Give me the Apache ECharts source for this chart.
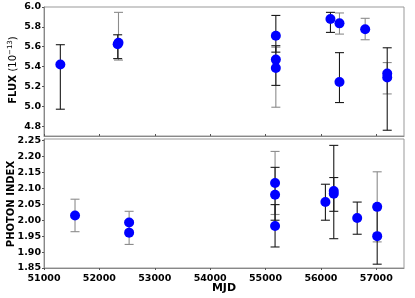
<!DOCTYPE html>
<html>
<head>
<meta charset="utf-8">
<script src="https://cdn.jsdelivr.net/npm/echarts@6/dist/echarts.min.js"></script>
<style>html,body{margin:0;padding:0;background:#fff;}#c{width:415px;height:298px;}</style>
</head>
<body>
<div id="c"></div>
<script>
// ---- Data ----
const fluxMJD   = [51295, 52330, 52345, 55186, 55186, 55186, 56172, 56335, 56335, 56799, 57197, 57197];
const fluxVal   = [5.42, 5.625, 5.64, 5.71, 5.47, 5.385, 5.879, 5.835, 5.245, 5.775, 5.33, 5.29];
const fluxLo    = [4.97, 5.48, 5.465, 5.545, 5.21, 4.99, 5.744, 5.727, 5.037, 5.67, 4.758, 5.124];
const fluxHi    = [5.62, 5.72, 5.946, 5.915, 5.61, 5.595, 5.946, 5.94, 5.54, 5.886, 5.589, 5.44];
const fluxSet   = ['A', 'A', 'B', 'A', 'A', 'B', 'A', 'B', 'A', 'B', 'A', 'B'];

const indexMJD  = [51560, 52537, 52537, 55172, 55172, 55172, 56081, 56232, 56232, 56655, 57016, 57016];
const indexVal  = [2.015, 1.993, 1.961, 2.117, 2.08, 1.982, 2.057, 2.092, 2.083, 2.007, 2.042, 1.95];
const indexLo   = [1.964, 1.958, 1.924, 2.018, 2.0, 1.916, 2.0, 1.942, 2.028, 1.956, 1.932, 1.862];
const indexHi   = [2.066, 2.028, 1.998, 2.216, 2.166, 2.049, 2.113, 2.235, 2.134, 2.057, 2.152, 2.04];
const indexSet  = ['B', 'B', 'B', 'B', 'A', 'A', 'A', 'A', 'A', 'A', 'B', 'A'];

const xTicks     = [51000, 52000, 53000, 54000, 55000, 56000, 57000];
const fluxTicks  = [4.8, 5.0, 5.2, 5.4, 5.6, 5.8, 6.0];
const indexTicks = [1.85, 1.90, 1.95, 2.00, 2.05, 2.10, 2.15, 2.20, 2.25];

// ---- Styling ----
const setColor = { A: '#1a1a1a', B: '#8c8c8c' };
const FONT = 'DejaVu Sans';
const labelStyle = { color: '#000', fontWeight: 'bold', fontSize: 9.5, fontFamily: FONT };

function errSeries(xs, lo, hi, sets, set, axisIdx) {
  const data = [];
  for (let i = 0; i < xs.length; i++) if (sets[i] === set) data.push([xs[i], lo[i], hi[i]]);
  return {
    type: 'custom', xAxisIndex: axisIdx, yAxisIndex: axisIdx, z: 2,
    data: data,
    encode: { x: 0, y: [1, 2] },
    renderItem: function (params, api) {
      const x = api.value(0);
      const a = api.coord([x, api.value(1)]);
      const b = api.coord([x, api.value(2)]);
      const w = 4.5;
      const st = { stroke: setColor[set], lineWidth: 1.1 };
      return {
        type: 'group',
        children: [
          { type: 'line', shape: { x1: a[0], y1: a[1], x2: b[0], y2: b[1] }, style: st },
          { type: 'line', shape: { x1: a[0] - w, y1: a[1], x2: a[0] + w, y2: a[1] }, style: st },
          { type: 'line', shape: { x1: b[0] - w, y1: b[1], x2: b[0] + w, y2: b[1] }, style: st }
        ]
      };
    }
  };
}

function pts(xs, ys, axisIdx) {
  return {
    type: 'scatter', xAxisIndex: axisIdx, yAxisIndex: axisIdx, z: 5,
    symbol: 'circle', symbolSize: 10,
    itemStyle: { color: '#0000ff', opacity: 1 },
    data: xs.map((x, i) => [x, ys[i]])
  };
}

const axisLine = { show: true, lineStyle: { color: '#888', width: 1 } };

const option = {
  animation: false,
  backgroundColor: '#fff',
  grid: [
    { left: 44, right: 11, top: 7, height: 129, show: true, borderColor: '#999', borderWidth: 1 },
    { left: 44, right: 11, top: 139, height: 129, show: true, borderColor: '#999', borderWidth: 1 }
  ],
  xAxis: [
    { type: 'value', gridIndex: 0, min: 51000, max: 57500,
      axisLine: axisLine, splitLine: { show: false },
      axisTick: { show: true, inside: true, length: 2, customValues: xTicks, lineStyle: { color: '#555' } },
      axisLabel: { show: false } },
    { type: 'value', gridIndex: 1, min: 51000, max: 57500,
      axisLine: axisLine, splitLine: { show: false },
      axisTick: { show: true, length: 2, customValues: xTicks, lineStyle: { color: '#555' } },
      axisLabel: Object.assign({ customValues: xTicks, margin: 6, formatter: v => String(v) }, labelStyle) }
  ],
  yAxis: [
    { type: 'value', gridIndex: 0, min: 4.7, max: 6.0,
      axisLine: axisLine, splitLine: { show: false },
      axisTick: { show: true, length: 2, customValues: fluxTicks, lineStyle: { color: '#555' } },
      axisLabel: Object.assign({ customValues: fluxTicks, margin: 3, formatter: v => v.toFixed(1) }, labelStyle) },
    { type: 'value', gridIndex: 1, min: 1.85, max: 2.255,
      axisLine: axisLine, splitLine: { show: false },
      axisTick: { show: true, length: 2, customValues: indexTicks, lineStyle: { color: '#555' } },
      axisLabel: Object.assign({ customValues: indexTicks, margin: 3, formatter: v => v.toFixed(2) }, labelStyle) }
  ],
  graphic: [
    { type: 'text', x: 13, y: 70, rotation: Math.PI / 2,
      style: { text: '{b|FLUX }{n|(10}{s|−13}{n|)}', align: 'center', verticalAlign: 'middle',
        rich: {
          b: { fontWeight: 'bold', fontSize: 10, fontFamily: FONT, fill: '#000' },
          n: { fontSize: 10, fontFamily: FONT, fill: '#000' },
          s: { fontSize: 7, fontFamily: FONT, fill: '#000', verticalAlign: 'top', padding: [0, 0, 5, 0] }
        } } },
    { type: 'text', x: 11, y: 204, rotation: Math.PI / 2,
      style: { text: 'PHOTON INDEX', align: 'center', verticalAlign: 'middle',
        fontWeight: 'bold', fontSize: 10, fontFamily: FONT, fill: '#000' } },
    { type: 'text', x: 224, y: 288,
      style: { text: 'MJD', align: 'center', verticalAlign: 'middle',
        fontWeight: 'bold', fontSize: 11, fontFamily: FONT, fill: '#000' } }
  ],
  series: [
    errSeries(fluxMJD, fluxLo, fluxHi, fluxSet, 'B', 0),
    errSeries(fluxMJD, fluxLo, fluxHi, fluxSet, 'A', 0),
    pts(fluxMJD, fluxVal, 0),
    errSeries(indexMJD, indexLo, indexHi, indexSet, 'B', 1),
    errSeries(indexMJD, indexLo, indexHi, indexSet, 'A', 1),
    pts(indexMJD, indexVal, 1)
  ]
};

const chart = echarts.init(document.getElementById('c'), null, { renderer: 'canvas' });
chart.setOption(option);
</script>
</body>
</html>
